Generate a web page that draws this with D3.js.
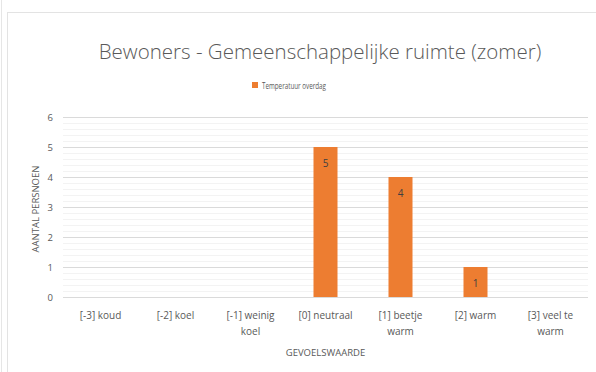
<!DOCTYPE html>
<html>
<head>
<meta charset="utf-8">
<script src="https://cdn.jsdelivr.net/npm/d3@7"></script>
<style>
  html, body { margin: 0; padding: 0; background: #fff; }
  svg { display: block; }
  text { font-family: "Open Sans", "Noto Sans", sans-serif; }
</style>
</head>
<body>
<svg id="chart" width="596" height="372"></svg>
<script>
// Data
const categories = [
  ["[-3] koud"],
  ["[-2] koel"],
  ["[-1] weinig", "koel"],
  ["[0] neutraal"],
  ["[1] beetje", "warm"],
  ["[2] warm"],
  ["[3] veel te", "warm"]
];
const values = [0, 0, 0, 5, 4, 1, 0];
const yTicks = [0, 1, 2, 3, 4, 5, 6];
const seriesName = "Temperatuur overdag";
const chartTitle = "Bewoners - Gemeenschappelijke ruimte (zomer)";
const xTitle = "GEVOELSWAARDE";
const yTitle = "AANTAL PERSNOEN";

const W = 596, H = 372;
const margin = { left: 63, right: 8, top: 117, bottom: 75 };
const svg = d3.select("#chart");
const textColor = "#595959";
const orange = "#ED7D31";

// Outer frame lines
svg.append("line").attr("x1", 1.5).attr("x2", 1.5).attr("y1", 0).attr("y2", H)
  .attr("stroke", "#e6e6e6").attr("stroke-width", 1);
svg.append("rect").attr("x", 7.5).attr("y", 12.5).attr("width", W).attr("height", H)
  .attr("fill", "#fff").attr("stroke", "#e3e3e3").attr("stroke-width", 1);

const keys = categories.map((c, i) => i);
const x = d3.scaleBand().domain(keys).range([margin.left, W - margin.right]).paddingInner(0.68).paddingOuter(0.34);
const xBand = d3.scaleBand().domain(keys).range([margin.left, W - margin.right]);
const y = d3.scaleLinear().domain([0, 6]).range([H - margin.bottom, margin.top]);

// Minor gridlines
const minor = d3.range(0, 6.001, 0.2).filter(v => Math.abs(v - Math.round(v)) > 1e-6);
svg.append("g").selectAll("line").data(minor).join("line")
  .attr("x1", margin.left).attr("x2", W - margin.right)
  .attr("y1", d => Math.round(y(d)) + 0.5).attr("y2", d => Math.round(y(d)) + 0.5)
  .attr("stroke", "#f3f3f3").attr("stroke-width", 1);

// Major gridlines via axis
const yAxis = d3.axisLeft(y).tickValues(yTicks).tickFormat(d3.format("d"))
  .tickSize(-(W - margin.left - margin.right)).tickPadding(10);
const gy = svg.append("g").attr("transform", `translate(${margin.left},0)`).call(yAxis);
gy.select(".domain").remove();
gy.selectAll(".tick line").attr("stroke", "#dadada");
gy.selectAll(".tick text").attr("fill", textColor).attr("font-size", 9.5)
  .style("font-family", '"Open Sans", sans-serif');

// Bars
svg.append("g").selectAll("rect").data(values).join("rect")
  .attr("x", (d, i) => x(i)).attr("width", x.bandwidth())
  .attr("y", d => y(d)).attr("height", d => y(0) - y(d))
  .attr("fill", orange);

// Value labels
svg.append("g").selectAll("text").data(values.map((v, i) => ({ v, i })).filter(d => d.v > 0)).join("text")
  .attr("x", d => x(d.i) + x.bandwidth() / 2)
  .attr("y", d => y(d.v) + 20)
  .attr("text-anchor", "middle").attr("font-size", 10).attr("fill", "#404040")
  .text(d => d.v);

// Category labels
const xl = svg.append("g").selectAll("text").data(categories).join("text")
  .attr("x", (d, i) => xBand(i) + xBand.bandwidth() / 2)
  .attr("y", 319)
  .attr("text-anchor", "middle").attr("font-size", 10).attr("fill", textColor);
xl.each(function(lines) {
  const t = d3.select(this);
  lines.forEach((ln, k) => {
    t.append("tspan").attr("x", t.attr("x")).attr("dy", k === 0 ? 0 : 15.5).text(ln);
  });
});

// Axis titles
svg.append("text").attr("x", (margin.left + W - margin.right) / 2).attr("y", 356)
  .attr("text-anchor", "middle").attr("font-size", 9.5).attr("fill", textColor).text(xTitle);
svg.append("text")
  .attr("transform", `translate(39,${(y(0) + y(6)) / 2 + 2}) rotate(-90)`)
  .attr("text-anchor", "middle").attr("font-size", 9.5).attr("fill", textColor).text(yTitle);

// Title
svg.append("text").attr("x", 320).attr("y", 59).attr("text-anchor", "middle")
  .attr("font-size", 20.5).attr("fill", textColor).attr("font-weight", 300).text(chartTitle);

// Legend
const lg = svg.append("g").attr("transform", "translate(252,82)");
lg.append("rect").attr("width", 6).attr("height", 6).attr("fill", orange);
lg.append("text").attr("x", 10).attr("y", 7).attr("font-size", 9)
  .attr("textLength", 64).attr("lengthAdjust", "spacingAndGlyphs")
  .attr("fill", textColor).text(seriesName);
</script>
</body>
</html>
